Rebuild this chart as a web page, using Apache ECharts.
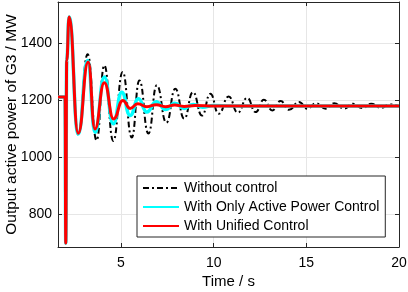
<!DOCTYPE html>
<html>
<head>
<meta charset="utf-8">
<script src="https://cdn.jsdelivr.net/npm/echarts@6/dist/echarts.min.js"></script>
<style>
  html, body { margin: 0; padding: 0; background: #fff; }
  #chart { width: 408px; height: 292px; }
</style>
</head>
<body>
<div id="chart"></div>
<script>
// 曲线数据 (时间 s, 功率 MW)，从原图读取的峰谷点
var tBlack = [1.6, 1.98, 2.02, 2.07, 2.2, 2.69, 3.2, 3.68, 4.1, 4.58, 5.09, 5.58, 5.99, 6.48, 6.93, 7.45, 7.93, 8.41, 8.88, 9.37,
  9.82, 10.27, 10.81, 11.3, 11.81, 12.26, 12.71, 13.16, 13.61, 14.06, 14.6, 15.06, 15.51, 16.05, 16.5, 17.04, 17.5, 18.04, 18.49, 19.03, 19.48, 20];
var vBlack = [1212, 1212, 700, 1340, 1490, 1080, 1362, 1060, 1323, 1058, 1300, 1070, 1270, 1084, 1253, 1122, 1241, 1136, 1229, 1147,
  1223, 1153, 1214, 1157, 1209, 1159, 1202, 1165, 1198, 1167, 1194, 1171, 1190, 1171, 1190, 1171, 1188, 1173, 1188, 1174, 1186, 1180];

var tCyan = [1.6, 1.98, 2.02, 2.07, 2.2, 2.69, 3.2, 3.6, 4.1, 4.58, 5.04, 5.49, 5.94, 6.39, 6.9, 7.4, 7.9, 8.4, 8.9, 9.4, 10, 11, 20];
var vCyan = [1212, 1212, 700, 1340, 1492, 1082, 1340, 1088, 1282, 1118, 1229, 1147, 1206, 1159, 1195, 1168, 1190, 1172, 1186, 1176, 1182, 1180, 1180];

var tRed = [1.6, 1.98, 2.02, 2.07, 2.2, 2.69, 3.23, 3.59, 4.1, 4.6, 5.1, 5.49, 5.9, 6.4, 6.9, 7.4, 7.9, 8.4, 9, 10, 20];
var vRed = [1212, 1212, 700, 1340, 1492, 1085, 1335, 1100, 1262, 1135, 1200, 1172, 1188, 1178, 1185, 1178, 1184, 1179, 1182, 1180, 1180];

var xTicks = [5, 10, 15, 20];
var yTicks = [800, 1000, 1200, 1400];
var names = ['Without control', 'With Only Active Power Control', 'With Unified Control'];

function pairs(t, v) {
  return t.map(function (x, i) { return [x, v[i]]; });
}

var chart = echarts.init(document.getElementById('chart'));
var font = 'Arial, "Liberation Sans", sans-serif';
var axisColor = '#262626';

var baseX = {
  type: 'value', min: 1.6, max: 20,
  axisLine: { show: true, onZero: false, lineStyle: { color: axisColor, width: 1 } },
  axisTick: { show: true, inside: true, length: 4, customValues: xTicks, lineStyle: { color: axisColor } },
  splitLine: { show: false }
};
var baseY = {
  type: 'value', min: 686, max: 1545,
  axisLine: { show: true, onZero: false, lineStyle: { color: axisColor, width: 1 } },
  axisTick: { show: true, inside: true, length: 4, customValues: yTicks, lineStyle: { color: axisColor } },
  splitLine: { show: false }
};

var option = {
  animation: false,
  backgroundColor: '#fff',
  grid: { left: 58, right: 9, top: 2, bottom: 45, outerBoundsMode: 'none', containLabel: false },
  legend: {
    data: names,
    orient: 'vertical',
    left: 137, top: 176,
    padding: [5, 6, 4, 5],
    itemGap: 5,
    itemWidth: 36, itemHeight: 14,
    itemStyle: { opacity: 0 },
    borderColor: '#262626', borderWidth: 1,
    backgroundColor: '#fff',
    textStyle: { fontFamily: font, fontSize: 14, color: '#000' }
  },
  xAxis: [
    Object.assign({}, baseX, {
      position: 'bottom',
      name: 'Time / s', nameLocation: 'middle', nameGap: 27, nameMoveOverlap: false,
      nameTextStyle: { fontFamily: font, fontSize: 15, color: '#000' },
      axisLabel: { customValues: xTicks, margin: 9, fontFamily: font, fontSize: 14, color: '#000',
        formatter: function (v) { return String(v); } },
      splitLine: { show: true, lineStyle: { color: '#e6e6e6', width: 1 } }
    }),
    Object.assign({}, baseX, { position: 'top', axisLabel: { show: false } })
  ],
  yAxis: [
    Object.assign({}, baseY, {
      position: 'left',
      name: 'Output active power of G3 / MW', nameLocation: 'middle', nameGap: 38, nameMoveOverlap: false,
      nameTextStyle: { fontFamily: font, fontSize: 15.5, color: '#000' },
      axisLabel: { customValues: yTicks, margin: 6, fontFamily: font, fontSize: 14, color: '#000',
        formatter: function (v) { return String(v); } },
      splitLine: { show: true, lineStyle: { color: '#e6e6e6', width: 1 } }
    }),
    Object.assign({}, baseY, { position: 'right', axisLabel: { show: false } })
  ],
  series: [
    {
      name: names[0], type: 'line', data: pairs(tBlack, vBlack),
      smooth: 0.5, smoothMonotone: 'x', symbol: 'none',
      lineStyle: { color: '#000', width: 2, type: [6, 3, 2, 3] },
      itemStyle: { color: '#000' }
    },
    {
      name: names[1], type: 'line', data: pairs(tCyan, vCyan),
      smooth: 0.5, smoothMonotone: 'x', symbol: 'none',
      lineStyle: { color: '#00ffff', width: 3.5 },
      itemStyle: { color: '#00ffff' }
    },
    {
      name: names[2], type: 'line', data: pairs(tRed, vRed),
      smooth: 0.5, smoothMonotone: 'x', symbol: 'none',
      lineStyle: { color: '#ff0000', width: 3 },
      itemStyle: { color: '#ff0000' }
    }
  ]
};

chart.setOption(option);
</script>
</body>
</html>
